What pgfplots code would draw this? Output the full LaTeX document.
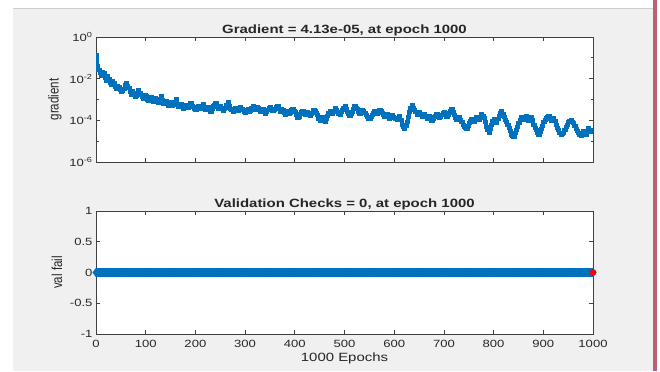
\documentclass[border=0pt]{standalone}
\usepackage{pgfplots}
\pgfplotsset{compat=1.18}
\usepackage{fontspec}
\setmainfont{Liberation Sans}[FakeStretch=1.25]
\newfontfamily\plainsans{Liberation Sans}
\definecolor{mblue}{HTML}{0072BD}
\definecolor{figbg}{HTML}{F0F0F0}
\definecolor{axc}{HTML}{404040}
\definecolor{txt}{HTML}{262626}
\definecolor{barc}{HTML}{C0606E}
\definecolor{edgec}{HTML}{CDCDCD}
\begin{document}
\begin{tikzpicture}[x=1bp,y=1bp]
\fill[white] (0,0) rectangle (660,371);
\fill[figbg] (13,0) rectangle (653,363);
\draw[edgec, line width=0.8bp] (13,363) -- (653,363);
\fill[barc] (653,0) rectangle (656.5,371);
\useasboundingbox (0,0) rectangle (660,371);

\pgfplotsset{
  mstyle/.style={
    scale only axis, width=497bp,
    axis background/.style={fill=white},
    axis line style={axc, line width=0.9bp},
    tick style={axc, line width=0.8bp},
    major tick length=4bp, minor tick length=2.5bp,
    tick align=inside, tick pos=both,
    xmin=0, xmax=1000,
    xtick={0,100,...,1000},
    ticklabel style={font=\fontsize{10.5}{12}\selectfont, text=txt},
    title style={font=\bfseries\fontsize{12}{14}\selectfont, text=txt, yshift=-8bp},
  }
}

\begin{axis}[mstyle, at={(96bp,209bp)}, anchor=south west, height=125bp,
  ymode=log, ymin=1e-6, ymax=1,
  ytick={1e-6,1e-4,1e-2,1},
  yticklabels={10\textsuperscript{-6},10\textsuperscript{-4},10\textsuperscript{-2},10\textsuperscript{0}},
  minor ytick={1e-5,1e-3,1e-1},
  xticklabels={},
  title={Gradient = 4.13e-05, at epoch 1000},
  ylabel={\scalebox{1}[1.25]{\plainsans\fontsize{11.6}{13}\selectfont gradient}},
  every axis y label/.style={at={(axis description cs:0,0.5)}, anchor=center, rotate=90, yshift=41bp, text=txt},
]
\addplot[const plot, mblue, line width=4bp] coordinates {
(0,1.4e-1) (2.5,4.0e-2) (5,2.5e-2) (7.5,1.8e-2) (10,1.4e-2) (12.5,2.2e-2) (15,1.8e-2) (17.5,1.1e-2) (20,7.9e-3) (22.5,1.3e-2)
(25,1.0e-2) (27.5,6.3e-3) (30,5.0e-3) (32.5,7.9e-3) (35,6.3e-3) (37.5,4.0e-3) (40,3.2e-3) (42.5,4.5e-3) (45,4.0e-3) (47.5,2.8e-3)
(50,2.2e-3) (52.5,2.5e-3) (55,3.2e-3) (57.5,5.0e-3) (60,6.3e-3) (62.5,4.5e-3) (65,3.5e-3) (67.5,2.2e-3) (70,1.6e-3) (72.5,2.5e-3)
(75,2.0e-3) (77.5,1.3e-3) (80,1.4e-3) (82.5,2.0e-3) (85,2.8e-3) (87.5,2.0e-3) (90,1.6e-3) (92.5,1.3e-3) (95,1.1e-3) (97.5,1.6e-3)
(100,1.4e-3) (102.5,1.0e-3) (105,8.9e-4) (107.5,1.1e-3) (110,1.26e-3) (112.5,1.0e-3) (115,7.9e-4) (117.5,1.2e-3) (120,1.1e-3) (122.5,8.0e-4)
(125,7.1e-4) (127.5,1.0e-3) (130,1.4e-3) (132.5,9.0e-4) (135,6.3e-4) (137.5,7.5e-4) (140,8.9e-4) (142.5,6.3e-4) (145,5.0e-4) (147.5,7.1e-4)
(150,7.9e-4) (152.5,5.0e-4) (155,5.6e-4) (157.5,8.0e-4) (160,1.0e-3) (162.5,6.3e-4) (165,4.5e-4) (167.5,5.6e-4) (170,6.3e-4) (172.5,4.5e-4)
(175,3.5e-4) (177.5,4.5e-4) (180,5.6e-4) (182.5,3.8e-4) (185,4.0e-4) (187.5,5.6e-4) (190,7.1e-4) (192.5,5.0e-4) (195,4.5e-4) (197.5,3.5e-4)
(200,3.2e-4) (202.5,4.5e-4) (205,5.0e-4) (207.5,3.8e-4) (210,3.5e-4) (212.5,5.0e-4) (215,6.3e-4) (217.5,4.5e-4) (220,3.2e-4) (222.5,3.8e-4)
(225,4.5e-4) (227.5,3.2e-4) (230,2.5e-4) (232.5,3.5e-4) (235,5.0e-4) (237.5,5.6e-4) (240,7.1e-4) (242.5,4.5e-4) (245,3.5e-4) (247.5,4.5e-4)
(250,5.0e-4) (252.5,3.5e-4) (255,2.8e-4) (257.5,3.5e-4) (260,4.0e-4) (262.5,5.6e-4) (265,7.9e-4) (267.5,5.0e-4) (270,3.5e-4) (272.5,3.0e-4)
(275,2.5e-4) (277.5,3.2e-4) (280,4.0e-4) (282.5,3.2e-4) (285,2.8e-4) (287.5,3.8e-4) (290,4.5e-4) (292.5,3.5e-4) (295,3.2e-4) (297.5,2.5e-4)
(300,2.2e-4) (302.5,3.0e-4) (305,3.5e-4) (307.5,2.5e-4) (310,2.8e-4) (312.5,4.0e-4) (315,5.0e-4) (317.5,3.8e-4) (320,3.2e-4) (322.5,4.5e-4)
(325,4.0e-4) (327.5,3.0e-4) (330,2.5e-4) (332.5,3.0e-4) (335,3.5e-4) (337.5,2.5e-4) (340,2.0e-4) (342.5,2.5e-4) (345,3.2e-4) (347.5,4.0e-4)
(350,4.5e-4) (352.5,3.5e-4) (355,2.8e-4) (357.5,3.2e-4) (360,3.5e-4) (362.5,4.5e-4) (365,5.0e-4) (367.5,3.5e-4) (370,2.5e-4) (372.5,3.5e-4)
(375,3.2e-4) (377.5,2.2e-4) (380,1.8e-4) (382.5,2.5e-4) (385,2.8e-4) (387.5,2.0e-4) (390,2.2e-4) (392.5,3.0e-4) (395,3.5e-4) (397.5,2.8e-4)
(400,2.5e-4) (402.5,1.8e-4) (405,1.26e-4) (407.5,1.5e-4) (410,2.0e-4) (412.5,2.5e-4) (415,2.8e-4) (417.5,2.0e-4) (420,1.8e-4) (422.5,2.2e-4)
(425,2.5e-4) (427.5,1.8e-4) (430,1.6e-4) (432.5,2.0e-4) (435,2.2e-4) (437.5,3.2e-4) (440,2.8e-4) (442.5,2.2e-4) (445,1.8e-4) (447.5,1.2e-4)
(450,8.9e-5) (452.5,1.1e-4) (455,1.4e-4) (457.5,1.0e-4) (460,7.9e-5) (462.5,1.1e-4) (465,1.6e-4) (467.5,2.2e-4) (470,2.8e-4) (472.5,2.5e-4)
(475,2.0e-4) (477.5,2.8e-4) (480,4.0e-4) (482.5,3.2e-4) (485,2.5e-4) (487.5,2.0e-4) (490,1.8e-4) (492.5,2.5e-4) (495,3.2e-4) (497.5,4.0e-4)
(500,5.0e-4) (502.5,3.5e-4) (505,2.5e-4) (507.5,2.0e-4) (510,1.6e-4) (512.5,2.0e-4) (515,2.5e-4) (517.5,3.5e-4) (520,5.0e-4) (522.5,4.0e-4)
(525,3.5e-4) (527.5,2.5e-4) (530,2.0e-4) (532.5,2.5e-4) (535,3.2e-4) (537.5,2.8e-4) (540,2.2e-4) (542.5,1.8e-4) (545,1.4e-4) (547.5,1.2e-4)
(550,1.1e-4) (552.5,1.4e-4) (555,1.8e-4) (557.5,2.2e-4) (560,2.8e-4) (562.5,2.5e-4) (565,2.0e-4) (567.5,2.5e-4) (570,3.2e-4) (572.5,2.8e-4)
(575,2.2e-4) (577.5,1.8e-4) (580,1.4e-4) (582.5,1.6e-4) (585,2.0e-4) (587.5,1.4e-4) (590,1.1e-4) (592.5,1.4e-4) (595,1.8e-4) (597.5,1.5e-4)
(600,1.26e-4) (602.5,1.1e-4) (605,1.0e-4) (607.5,1.3e-4) (610,1.6e-4) (612.5,1.0e-4) (615,6.3e-5) (617.5,5.0e-5) (620,4.0e-5) (622.5,5.6e-5)
(625,7.9e-5) (627.5,1.4e-4) (630,2.5e-4) (632.5,4.0e-4) (635,5.6e-4) (637.5,4.0e-4) (640,3.2e-4) (642.5,2.5e-4) (645,1.8e-4) (647.5,2.2e-4)
(650,2.5e-4) (652.5,1.8e-4) (655,1.4e-4) (657.5,1.6e-4) (660,2.0e-4) (662.5,1.5e-4) (665,1.1e-4) (667.5,1.3e-4) (670,1.6e-4) (672.5,1.2e-4)
(675,8.9e-5) (677.5,1.1e-4) (680,1.4e-4) (682.5,1.7e-4) (685,2.0e-4) (687.5,1.5e-4) (690,1.26e-4) (692.5,1.5e-4) (695,1.8e-4) (697.5,2.2e-4)
(700,2.5e-4) (702.5,1.8e-4) (705,1.4e-4) (707.5,1.8e-4) (710,2.2e-4) (712.5,2.8e-4) (715,3.5e-4) (717.5,2.5e-4) (720,1.8e-4) (722.5,1.3e-4)
(725,1.0e-4) (727.5,1.2e-4) (730,1.4e-4) (732.5,1.0e-4) (735,7.9e-5) (737.5,6.3e-5) (740,5.0e-5) (742.5,4.5e-5) (745,4.0e-5) (747.5,5.6e-5)
(750,7.1e-5) (752.5,9.0e-5) (755,1.1e-4) (757.5,9.0e-5) (760,7.9e-5) (762.5,1.1e-4) (765,1.4e-4) (767.5,1.2e-4) (770,1.0e-4) (772.5,1.4e-4)
(775,2.0e-4) (777.5,1.6e-4) (780,1.26e-4) (782.5,8.0e-5) (785,5.0e-5) (787.5,3.5e-5) (790,2.5e-5) (792.5,4.0e-5) (795,6.3e-5) (797.5,9.0e-5)
(800,1.1e-4) (802.5,9.0e-5) (805,7.1e-5) (807.5,1.1e-4) (810,1.6e-4) (812.5,2.2e-4) (815,2.8e-4) (817.5,2.0e-4) (820,1.4e-4) (822.5,1.0e-4)
(825,7.9e-5) (827.5,6.0e-5) (830,4.5e-5) (832.5,3.0e-5) (835,2.0e-5) (837.5,1.8e-5) (840,1.6e-5) (842.5,2.5e-5) (845,3.5e-5) (847.5,5.0e-5)
(850,7.1e-5) (852.5,1.0e-4) (855,1.4e-4) (857.5,1.2e-4) (860,1.0e-4) (862.5,1.3e-4) (865,1.6e-4) (867.5,1.2e-4) (870,8.9e-5) (872.5,1.1e-4)
(875,1.4e-4) (877.5,1.0e-4) (880,6.3e-5) (882.5,4.5e-5) (885,3.5e-5) (887.5,2.5e-5) (890,2.0e-5) (892.5,2.8e-5) (895,4.0e-5) (897.5,5.6e-5)
(900,7.9e-5) (902.5,1.0e-4) (905,1.26e-4) (907.5,1.4e-4) (910,1.6e-4) (912.5,1.2e-4) (915,8.9e-5) (917.5,1.1e-4) (920,1.26e-4) (922.5,9.0e-5)
(925,6.3e-5) (927.5,4.5e-5) (930,3.5e-5) (932.5,2.5e-5) (935,2.0e-5) (937.5,2.2e-5) (940,2.5e-5) (942.5,3.5e-5) (945,5.0e-5) (947.5,6.3e-5)
(950,7.9e-5) (952.5,9.0e-5) (955,1.0e-4) (957.5,8.5e-5) (960,7.1e-5) (962.5,5.6e-5) (965,4.0e-5) (967.5,3.2e-5) (970,2.5e-5) (972.5,2.0e-5)
(975,1.8e-5) (977.5,2.5e-5) (980,3.2e-5) (982.5,2.5e-5) (985,2.0e-5) (987.5,3.0e-5) (990,4.5e-5) (992.5,3.5e-5) (995,2.8e-5) (997.5,3.5e-5)
(1000,4.13e-5)
};
\end{axis}

\begin{axis}[mstyle, at={(96bp,37bp)}, anchor=south west, height=123bp,
  ymin=-1, ymax=1,
  ytick={-1,-0.5,0,0.5,1},
  yticklabels={-1,-0.5,0,0.5,1},
  xticklabels={0,100,200,300,400,500,600,700,800,900,1000},
  xticklabel style={yshift=-3bp},
  title={Validation Checks = 0, at epoch 1000},
  xlabel={1000 Epochs},
  xlabel style={font=\fontsize{12}{14}\selectfont, text=txt, yshift=2bp},
  ylabel={\scalebox{1}[1.25]{\plainsans\fontsize{11.6}{13}\selectfont val fail}},
  every axis y label/.style={at={(axis description cs:0,0.5)}, anchor=center, rotate=90, yshift=39bp, text=txt},
  clip=false,
]
\addplot[mblue, line width=9bp, mark=diamond*, mark size=4.5bp, mark options={line width=0.1bp}] coordinates {
(0,0) (50,0) (100,0) (150,0) (200,0) (250,0) (300,0) (350,0) (400,0) (450,0) (500,0)
(550,0) (600,0) (650,0) (700,0) (750,0) (800,0) (850,0) (900,0) (950,0) (1000,0)
};
\addplot[only marks, mark=*, red, mark size=3bp] coordinates {(1000,0)};
\end{axis}
\end{tikzpicture}
\end{document}
